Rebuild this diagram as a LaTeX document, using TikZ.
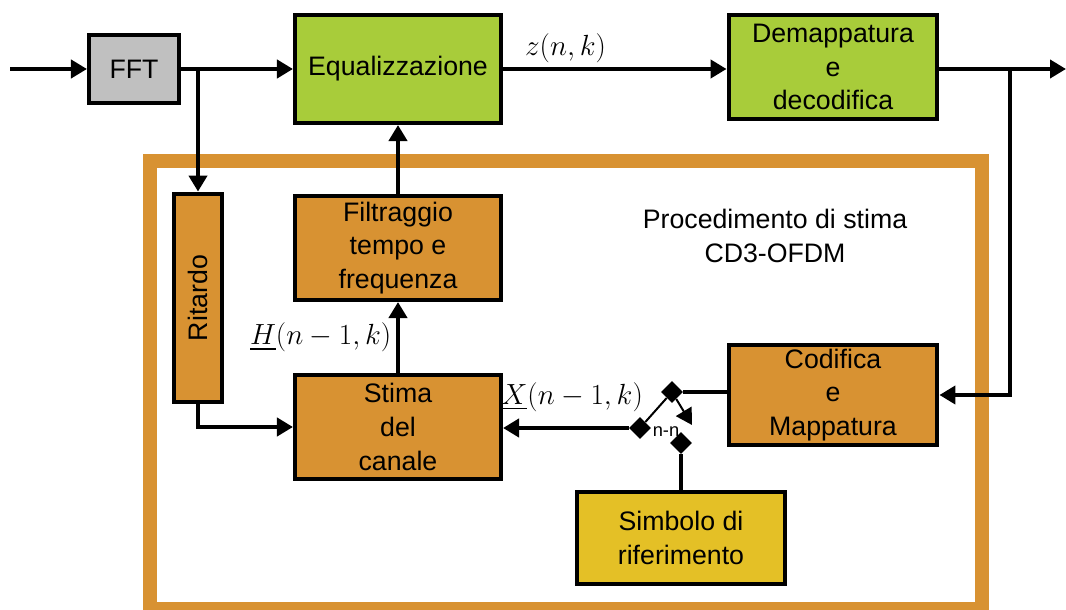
\documentclass[tikz,border=0pt]{standalone}
\usepackage{amsmath}
\usepackage{fontspec}
\setmainfont{Liberation Sans}
\usetikzlibrary{arrows.meta,shapes.geometric}
\definecolor{fftgrey}{RGB}{192,192,192}
\definecolor{eqgreen}{RGB}{168,204,58}
\definecolor{estorange}{RGB}{216,146,50}
\definecolor{refyellow}{RGB}{228,192,38}

\begin{document}
\begin{tikzpicture}[x=0.025cm,y=-0.025cm,
  blk/.style={draw,line width=0.1cm,align=center,inner sep=0pt,font=\fontsize{19}{24}\selectfont},
  sig/.style={line width=0.1cm,-{Triangle[width=0.45cm,length=0.4cm]}},
  wire/.style={line width=0.1cm},
  pin/.style={diamond,fill,inner sep=0pt,minimum size=0.55cm},
  lab/.style={font=\fontsize{19}{24}\selectfont},
  mlab/.style={font=\fontsize{21}{24}\selectfont}]
\useasboundingbox (0,0) rectangle (1066,610);

% Estimation frame
\draw[estorange,line width=0.35cm] (150,161) rectangle (982,609);
\node[lab,align=center] (title) at (775,236) {Procedimento di stima\\CD3-OFDM};

% Main chain
\node[blk,fill=fftgrey,minimum width=2.25cm,minimum height=1.68cm] (fft) at (134,69) {FFT};
\node[blk,fill=eqgreen,minimum width=5.15cm,minimum height=2.7cm] (eq) at (398,69) {Equalizzazione};
\node[blk,fill=eqgreen,minimum width=5.22cm,minimum height=2.58cm] (demap) at (833,67) {Demappatura\\e\\decodifica};

% Estimation blocks
\node[blk,fill=estorange,minimum width=1.22cm,minimum height=5.22cm] (rit) at (198,298) {\rotatebox{90}{Ritardo}};
\node[blk,fill=estorange,minimum width=5.15cm,minimum height=2.6cm] (filt) at (398,248) {Filtraggio\\tempo e\\frequenza};
\node[blk,fill=estorange,minimum width=5.15cm,minimum height=2.58cm] (stima) at (398,427) {Stima\\del\\canale};
\node[blk,fill=estorange,minimum width=5.22cm,minimum height=2.52cm] (cod) at (833,395) {Codifica\\e\\Mappatura};
\node[blk,fill=refyellow,minimum width=5.2cm,minimum height=2.32cm] (simb) at (681,538) {Simbolo di\\riferimento};

% Switch
\node[pin] (pivot) at (672,392) {};
\node[pin] (contact) at (640,428) {};
\node[pin] (refpin) at (681,443) {};
\coordinate (throw) at (692,425);
\node[font=\fontsize{13}{15}\selectfont] (nlab) at (666,432) {n-n};

% Signal paths
\coordinate (in) at (10,69);
\coordinate (out) at (1066,69);
\coordinate (split1) at (198,69);
\coordinate (split2) at (1010,69);
\draw[sig] (in) -- (fft);
\draw[sig] (fft) -- (eq);
\draw[sig] (eq.east) -- node[mlab,above,pos=0.28] (zlab) {$z(n,k)$} (eq.east -| demap.west);
\draw[sig] (demap.east |- out) -- (out);
\draw[sig] (split1) -- (rit.north);
\draw[sig] (split2) |- (cod.east);
\draw[sig] (rit.south) |- (stima.west);
\draw[sig] (stima.north) -- node[mlab,left] (hlab) {$\underline{H}(n-1,k)$} (filt.south);
\draw[sig] (filt) -- (eq);
\draw[wire] (pivot) -- (pivot -| cod.west);
\draw[sig] (contact) -- node[mlab,above,pos=0.45,yshift=0.25cm] (xlab) {$\underline{X}(n-1,k)$} (contact -| stima.east);
\draw[line width=0.05cm] (pivot) -- (contact);
\draw[line width=0.05cm,-{Triangle[width=0.45cm,length=0.4cm]}] (pivot) -- (throw);
\draw[wire] (simb.north) -- (refpin);
\end{tikzpicture}
\end{document}
